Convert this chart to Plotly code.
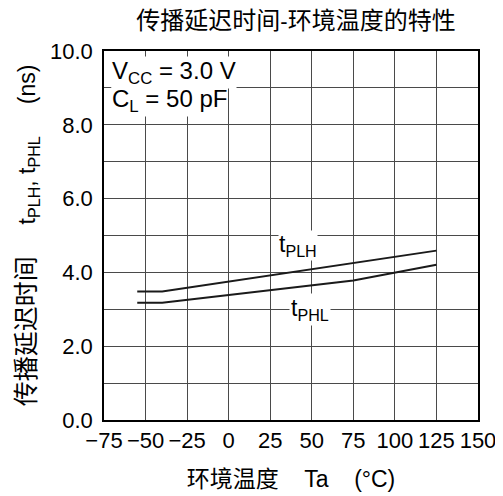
import plotly.graph_objects as go

temp_plh = [-55, -40, 125]
tplh = [3.48, 3.48, 4.59]
temp_phl = [-55, -40, 75, 125]
tphl = [3.18, 3.18, 3.78, 4.21]

x_ticks = [-75, -50, -25, 0, 25, 50, 75, 100, 125, 150]
x_labels = ["\u221275", "\u221250", "\u221225", "0", "25", "50", "75", "100", "125", "150"]
y_ticks = [0, 2, 4, 6, 8, 10]
y_labels = ["0.0", "2.0", "4.0", "6.0", "8.0", "10.0"]

FONT = "Liberation Sans, Arial, Noto Sans CJK SC, sans-serif"
GRID = "#4a4a4a"
OFF = 8  # page body margin offset


def sized(s, size=24):
    return f'<span style="font-size:{size}px">{s}</span>'


fig = go.Figure()
fig.add_trace(go.Scatter(x=temp_plh, y=tplh, mode="lines",
                         line=dict(color="#1a1a1a", width=2), showlegend=False))
fig.add_trace(go.Scatter(x=temp_phl, y=tphl, mode="lines",
                         line=dict(color="#1a1a1a", width=2), showlegend=False))

W, H = 503 - OFF, 496 - OFF
fig.update_layout(
    width=W, height=H,
    margin=dict(l=104 - OFF, r=25, t=51 - OFF, b=76, autoexpand=False),
    paper_bgcolor="white", plot_bgcolor="white",
    font=dict(family=FONT, size=22, color="black"),
    title=dict(text=sized("传播延迟时间") + "-" + sized("环境温度的特性"),
               x=(296 - OFF) / W, xref="container", xanchor="center",
               y=1 - (21 - OFF) / H, yref="container", yanchor="middle",
               font=dict(size=22)),
    xaxis=dict(range=[-75, 150], tickvals=x_ticks, ticktext=x_labels,
               showgrid=True, gridcolor=GRID, gridwidth=1,
               showline=True, linecolor="black", linewidth=1.5, mirror=True,
               ticks="", tickfont=dict(size=22), zeroline=False, automargin=False,
               title=dict(text=sized("环境温度", 23) + "    Ta    (°C)",
                          font=dict(size=23), standoff=19)),
    yaxis=dict(range=[0, 10], tickvals=y_ticks, ticktext=y_labels,
               showgrid=True, gridcolor=GRID, gridwidth=1,
               minor=dict(dtick=1, showgrid=True, gridcolor=GRID, gridwidth=1),
               showline=True, linecolor="black", linewidth=1.5, mirror=True,
               ticks="", tickfont=dict(size=22), zeroline=False, automargin=False,
               ticklabelstandoff=5,
               title=dict(text=sized("传播延迟时间", 25)
                          + "     t<sub>PLH</sub>, t<sub>PHL</sub>     (ns)",
                          font=dict(size=23), standoff=8)),
)

fig.add_annotation(x=-71, y=9.43, xref="x", yref="y", xanchor="left", yanchor="middle",
                   text="V<sub>CC</sub> = 3.0 V", showarrow=False, bgcolor="white",
                   font=dict(size=24), borderpad=0)
fig.add_annotation(x=-71, y=8.67, xref="x", yref="y", xanchor="left", yanchor="middle",
                   text="C<sub>L</sub> = 50 pF", showarrow=False, bgcolor="white",
                   font=dict(size=24), borderpad=0)
fig.add_annotation(x=42, y=4.72, xref="x", yref="y", xanchor="center", yanchor="middle",
                   text="t<sub>PLH</sub>", showarrow=False, bgcolor="white",
                   font=dict(size=23), borderpad=0)
fig.add_annotation(x=49, y=3.0, xref="x", yref="y", xanchor="center", yanchor="middle",
                   text="t<sub>PHL</sub>", showarrow=False, bgcolor="white",
                   font=dict(size=23), borderpad=1)

fig.write_html("out.html")
